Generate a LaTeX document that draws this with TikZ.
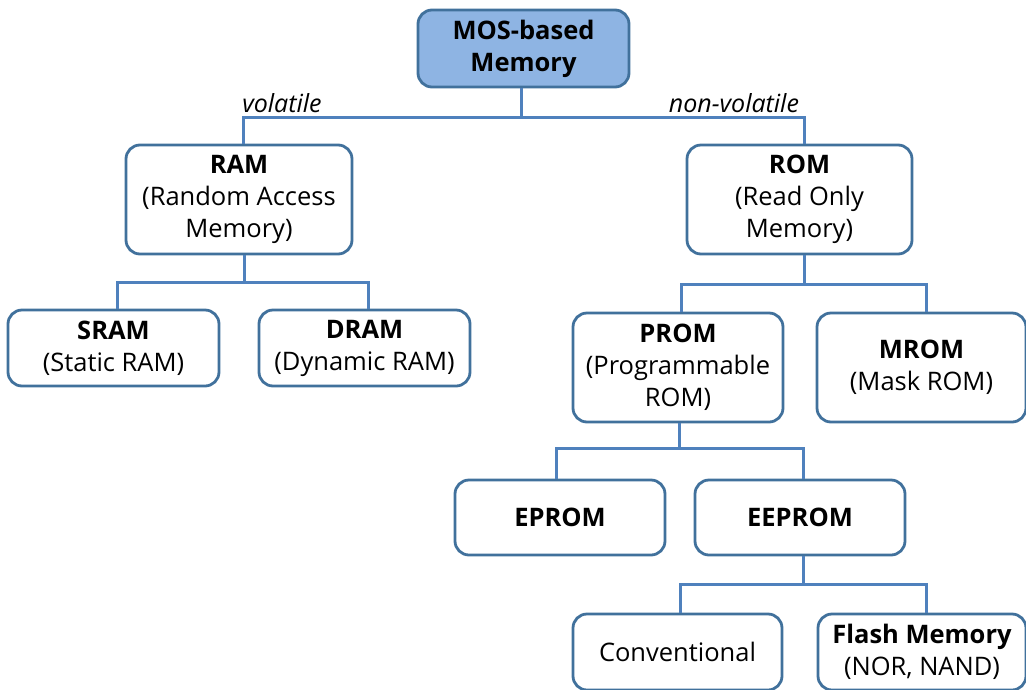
\documentclass[tikz,border=0pt]{standalone}
\usepackage{fontspec}
\setmainfont{Open Sans}
\definecolor{boxline}{RGB}{65,113,156}
\definecolor{connline}{RGB}{79,129,189}
\definecolor{topfill}{RGB}{142,180,227}
\begin{document}
\begin{tikzpicture}[x=1pt,y=-1pt,
  box/.style={draw=boxline,line width=2.8pt,rounded corners=14pt,fill=white,
    align=center,inner sep=0pt,font=\fontsize{25.5}{32}\selectfont},
  conn/.style={draw=connline,line width=3pt},
  lbl/.style={font=\fontsize{25}{28}\selectfont\itshape,inner sep=0pt}]
\useasboundingbox (0,0) rectangle (1026,689);
\node[box,fill=topfill,minimum width=211pt,minimum height=77pt] (mos) at (523.5,48.5) {\textbf{MOS-based}\\\textbf{Memory}};
\node[box,minimum width=226pt,minimum height=109pt] (ram) at (239,199.5) {\textbf{RAM}\\(Random Access\\Memory)};
\node[box,minimum width=225pt,minimum height=109pt] (rom) at (799.5,199.5) {\textbf{ROM}\\(Read Only\\Memory)};
\node[box,minimum width=211pt,minimum height=76pt] (sram) at (113.5,348) {\textbf{SRAM}\\(Static RAM)};
\node[box,minimum width=211pt,minimum height=76pt] (dram) at (364.5,348) {\textbf{DRAM}\\(Dynamic RAM)};
\node[box,minimum width=210pt,minimum height=109pt] (prom) at (678,367.5) {\textbf{PROM}\\(Programmable\\ROM)};
\node[box,minimum width=209pt,minimum height=109pt] (mrom) at (921.5,367.5) {\textbf{MROM}\\(Mask ROM)};
\node[box,minimum width=210pt,minimum height=75pt] (eprom) at (560,517.5) {\textbf{EPROM}};
\node[box,minimum width=210pt,minimum height=75pt] (eeprom) at (800,517.5) {\textbf{EEPROM}};
\node[box,minimum width=209pt,minimum height=76pt] (conv) at (677.5,652) {Conventional};
\node[box,minimum width=208pt,minimum height=76pt] (flash) at (922,652) {\textbf{Flash Memory}\\(NOR, NAND)};
% level 1
\coordinate (j1) at (521,117);
\draw[conn] (mos.south -| j1) -- (j1);
\draw[conn] ([xshift=4pt]ram.north) |- (j1) -| ([xshift=5pt]rom.north);
\node[lbl] (vol) at (282,103) {volatile};
\node[lbl] (nvol) at (734,103) {non-volatile};
% level 2 RAM
\coordinate (j2) at (244,282);
\draw[conn] (ram.south -| j2) -- (j2);
\draw[conn] ([xshift=3.5pt]sram.north) |- (j2) -| ([xshift=3.5pt]dram.north);
% level 2 ROM
\coordinate (j3) at (804,284);
\draw[conn] (rom.south -| j3) -- (j3);
\draw[conn] ([xshift=3pt]prom.north) |- (j3) -| ([xshift=4.5pt]mrom.north);
% level 3 PROM
\coordinate (j4) at (679,448);
\draw[conn] (prom.south -| j4) -- (j4);
\draw[conn] ([xshift=-4pt]eprom.north) |- (j4) -| ([xshift=3pt]eeprom.north);
% level 4 EEPROM
\coordinate (j5) at (803,584);
\draw[conn] (eeprom.south -| j5) -- (j5);
\draw[conn] ([xshift=2.5pt]conv.north) |- (j5) -| ([xshift=4pt]flash.north);
\end{tikzpicture}
\end{document}
